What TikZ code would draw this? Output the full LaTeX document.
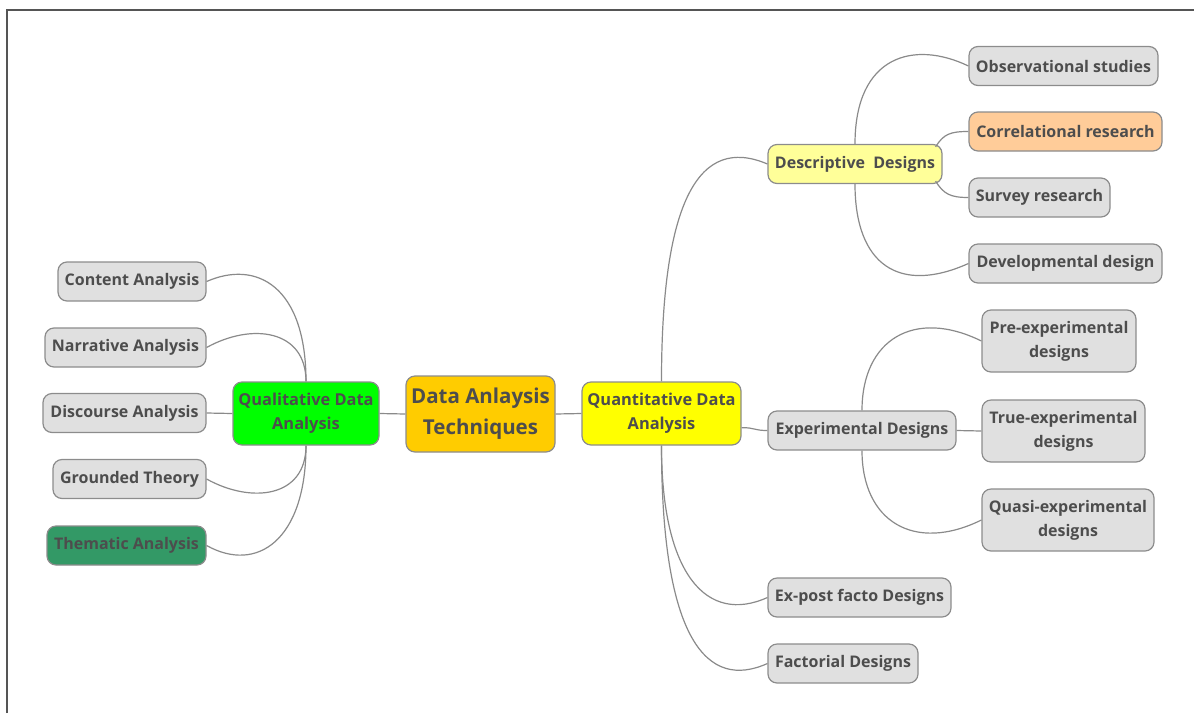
\documentclass[tikz,border=0pt]{standalone}
\usepackage{fontspec}
\setmainfont{Open Sans}
\begin{document}
\begin{tikzpicture}[x=1pt,y=-1pt,
  every node/.style={font=\bfseries\fontsize{16}{24}\selectfont, text=txt, align=center, inner sep=2pt},
  mbox/.style={draw=bord, line width=1.2pt, rounded corners=9pt, fill=leaf},
  leafbox/.style={mbox, minimum height=39pt},
  twobox/.style={mbox, minimum height=62pt},
  branch/.style={twobox, minimum height=63pt, font=\bfseries\fontsize{16.4}{24}\selectfont},
  link/.style={draw=wire, line width=1.2pt}]
\definecolor{txt}{HTML}{4D4D4D}
\definecolor{bord}{HTML}{8C8C8C}
\definecolor{wire}{HTML}{8A8A8A}
\definecolor{leaf}{HTML}{E0E0E0}
\definecolor{frame}{HTML}{555555}
\useasboundingbox (0,0) rectangle (1194,713);
% outer frame (top and left edges)
\draw[frame, line width=1.3pt] (7,713) -- (7,10) -- (1194,10);

% central topic and main branches
\node[mbox, fill={rgb,255:red,255;green,204;blue,0}, minimum width=149pt, minimum height=76pt,
      font=\bfseries\fontsize{20.5}{31}\selectfont] (root) at (480.5,414) {Data Anlaysis\\Techniques};
\node[branch, fill={rgb,255:red,0;green,255;blue,0}, minimum width=146pt] (qual) at (306,413.5) {Qualitative Data\\Analysis};
\node[branch, fill={rgb,255:red,255;green,255;blue,0}, minimum width=159pt] (quant) at (661.5,413.5) {Quantitative Data\\Analysis};

% qualitative techniques
\node[leafbox, minimum width=148pt] (content) at (132,281.5) {Content Analysis};
\node[leafbox, minimum width=161pt] (narr) at (125.5,347.5) {Narrative Analysis};
\node[leafbox, minimum width=163pt] (disc) at (124.5,413) {Discourse Analysis};
\node[leafbox, minimum width=153pt] (ground) at (129.5,479) {Grounded Theory};
\node[leafbox, minimum width=159pt, fill={rgb,255:red,51;green,153;blue,102}] (them) at (126.5,545.5) {Thematic Analysis};

% quantitative designs
\node[leafbox, minimum width=174pt, fill={rgb,255:red,255;green,255;blue,153}] (desc) at (855,164) {Descriptive\ \ Designs};
\node[leafbox, minimum width=188pt] (exper) at (862,430.5) {Experimental Designs};
\node[leafbox, minimum width=183pt] (expost) at (859.5,597.5) {Ex-post facto Designs};
\node[leafbox, minimum width=150pt] (fact) at (843,663.5) {Factorial Designs};

% descriptive designs
\node[leafbox, minimum width=189pt] (obs) at (1063.5,66) {Observational studies};
\node[leafbox, minimum width=193pt, fill={rgb,255:red,255;green,204;blue,153}] (corr) at (1065.5,131.5) {Correlational research};
\node[leafbox, minimum width=141pt] (surv) at (1039.5,197.5) {Survey research};
\node[leafbox, minimum width=193pt] (devel) at (1065.5,263.5) {Developmental design};

% experimental designs
\node[twobox, minimum width=154pt] (pre) at (1059,341) {Pre-experimental\\designs};
\node[twobox, minimum width=163pt] (true) at (1063.5,431) {True-experimental\\designs};
\node[twobox, minimum width=172pt] (quasi) at (1068,520) {Quasi-experimental\\designs};

% connectors
\draw[link] (root.west) -- (qual.east);
\draw[link] (root.east) -- (quant.west);

\draw[link] (qual.north) .. controls +(0,-95) and +(50,-22) .. (content.east);
\draw[link] (qual.north) .. controls +(0,-52) and +(45,-25) .. (narr.east);
\draw[link] (qual.west) -- (disc.east);
\draw[link] (qual.south) .. controls +(0,52) and +(45,25) .. (ground.east);
\draw[link] (qual.south) .. controls +(0,95) and +(50,28) .. (them.east);

\draw[link] (quant.north) .. controls +(0,-182) and +(-68,-29) .. (desc.west);
\draw[link] (quant.-10) .. controls +(14,0) and +(-14,0) .. (exper.west);
\draw[link] (quant.south) .. controls +(0,130) and +(-60,27) .. (expost.west);
\draw[link] (quant.south) .. controls +(0,195) and +(-60,27) .. (fact.west);

\draw[link] (desc.north) .. controls +(0,-89) and +(-54,-26) .. (obs.west);
\draw[link] ([xshift=-7pt,yshift=-3pt]desc.north east) .. controls +(8,-13) and +(-18,0) .. (corr.west);
\draw[link] ([xshift=-7pt,yshift=3pt]desc.south east) .. controls +(8,13) and +(-18,0) .. (surv.west);
\draw[link] (desc.south) .. controls +(0,81) and +(-69,31) .. (devel.west);

\draw[link] (exper.north) .. controls +(0,-71) and +(-67,-33) .. (pre.west);
\draw[link] (exper.east) -- (true.west);
\draw[link] (exper.south) .. controls +(0,71) and +(-67,33) .. (quasi.west);
\end{tikzpicture}
\end{document}
